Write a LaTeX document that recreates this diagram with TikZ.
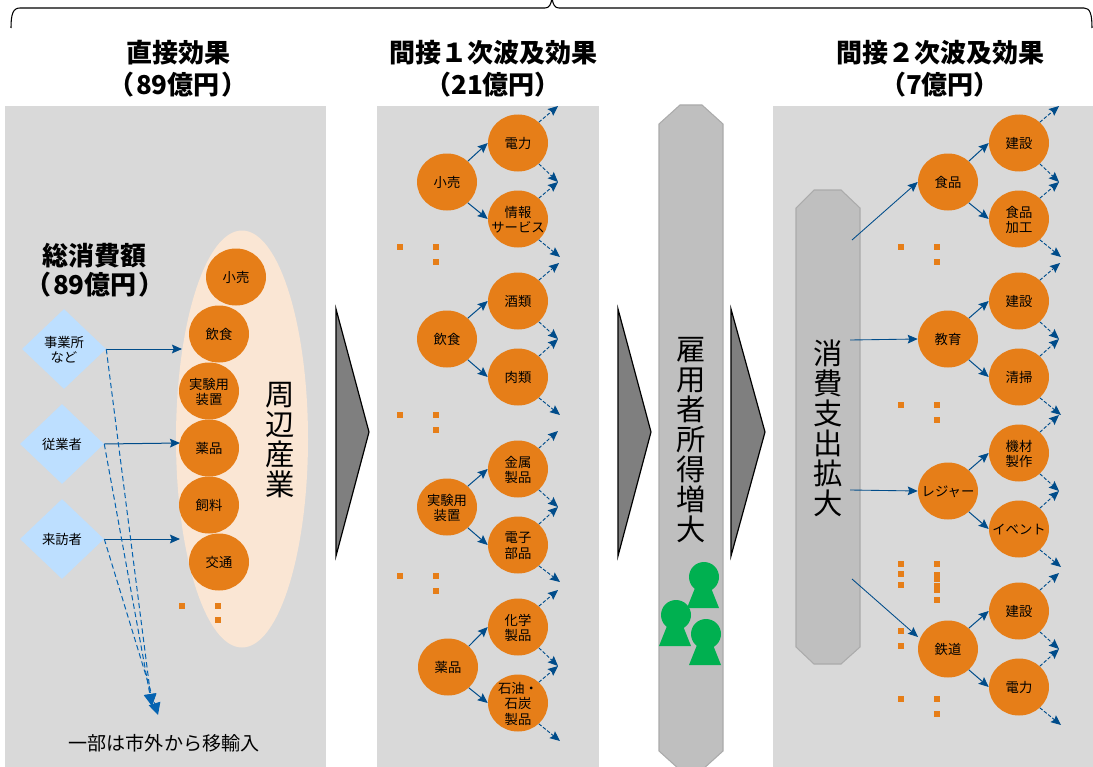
\documentclass[tikz,border=0pt]{standalone}
\usepackage{fontspec}
\setmainfont{Noto Sans CJK JP}
\usetikzlibrary{shapes.geometric,arrows.meta}
\definecolor{panelgray}{RGB}{217,217,217}
\definecolor{pillargray}{RGB}{191,191,191}
\definecolor{wedgegray}{RGB}{127,127,127}
\definecolor{sector}{RGB}{230,126,24}
\definecolor{peach}{RGB}{250,230,212}
\definecolor{buyer}{RGB}{189,223,255}
\definecolor{linkblue}{RGB}{0,76,138}
\definecolor{leakblue}{RGB}{5,99,177}
\definecolor{worker}{RGB}{0,176,80}
\newcommand{\ctext}[1]{\makebox[0pt]{\vbox to 0pt{\kern3.8pt\vss\hbox{\begin{tabular}{@{}c@{}}#1\end{tabular}}\vss}}}
\tikzset{
  sectornode/.style={ellipse,fill=sector,minimum width=45pt,minimum height=42.75pt,inner sep=0pt,font=\fontsize{10}{11.25}\selectfont},
  buyernode/.style={diamond,fill=buyer,minimum width=63pt,minimum height=60pt,inner sep=0pt,font=\fontsize{10}{11.25}\selectfont},
  dotnode/.style={rectangle,fill=sector,minimum size=4.5pt,inner sep=0pt},
  panel/.style={fill=panelgray},
  wedge/.style={fill=wedgegray,draw=black,line width=0.9pt,line join=miter},
  pillar/.style={fill=pillargray,draw=black!33,line width=0.8pt},
  person/.style={fill=worker},
  titletext/.style={font=\fontsize{19.5}{24}\selectfont\bfseries,align=center,inner sep=0pt},
  bigtext/.style={font=\fontsize{22}{22.5}\selectfont,align=center,inner sep=0pt},
  link/.style={draw=linkblue,line width=0.75pt,-{Stealth[length=7.5pt,width=6.5pt,inset=1.2pt]}},
  feed/.style={draw=linkblue,line width=0.65pt,-{Stealth[length=7.5pt,width=6.5pt,inset=1.2pt]}},
  onward/.style={draw=linkblue,line width=0.7pt,dash pattern=on 2.6pt off 1.4pt,-{Stealth[length=7.5pt,width=6.5pt,inset=1.2pt]}},
  leak/.style={draw=leakblue,line width=0.75pt,dash pattern=on 4pt off 2.4pt,-{Triangle[length=9pt,width=9pt]}},
}
\begin{document}
\begin{tikzpicture}[x=0.75pt,y=0.75pt,yscale=-1,xscale=1]
\useasboundingbox (0,0) rectangle (1093,767);
\clip (0,0) rectangle (1093,767);

%Shape: Panels
\path [panel] (5,106) rectangle (326,767);
\path [panel] (377,106) rectangle (599,767);
\path [panel] (773,106) rectangle (1093,767);
%Shape: Brace
\draw [line width=0.8pt] (11,28) .. controls (11,14) and (13,8) .. (20,8) -- (545,8) .. controls (549,8) and (551,5) .. (552,-2) .. controls (553,5) and (555,8) .. (559,8) -- (1084,8) .. controls (1090,8) and (1092,14) .. (1092,28);
%Shape: Wedges
\draw [wedge] (336,309) -- (369,432) -- (336,556) -- cycle;
\draw [wedge] (618,309) -- (651,432) -- (618,556) -- cycle;
\draw [wedge] (731,309) -- (765,432) -- (731,556) -- cycle;
%Shape: Pillars
\draw [pillar] (659,124) -- (680,105) -- (702,105) -- (723,124) -- (723,751) -- (702,770) -- (680,770) -- (659,751) -- cycle;
\draw [pillar] (796,208) -- (814,190) -- (841,190) -- (860,208) -- (860,647) -- (841,664) -- (814,664) -- (796,647) -- cycle;
%Shape: People
\path [person] (704,577) circle (15);
\path [person] (695,588) -- (687,608) -- (719,608) -- (711,588) -- cycle;
\path [person] (676,615) circle (15);
\path [person] (667,626) -- (659,646) -- (691,646) -- (683,626) -- cycle;
\path [person] (706,634) circle (15);
\path [person] (697,645) -- (689,665) -- (721,665) -- (713,645) -- cycle;
%Shape: Surrounding industries
\node (around) [ellipse,fill=peach,minimum width=99pt,minimum height=312.75pt,inner sep=0pt] at (242,439) {};

% Text Node
\node (titleA) [titletext] at (178,69) {直接効果\\（\kern1pt 89億円\kern1pt ）};
\node (titleB) [titletext] at (493,69) {間接１次波及効果\\（21億円）};
\node (titleC) [titletext] at (940,69) {間接２次波及効果\\（7億円）};
\node (total) [titletext,font=\fontsize{19.5}{21.75}\selectfont\bfseries] at (95,270) {総消費額\\（\kern1pt 89億円\kern1pt ）};
\node (aroundtext) [bigtext] at (280,440) {周\\辺\\産\\業};
\node (incometext) [bigtext] at (691,440) {雇\\用\\者\\所\\得\\増\\大};
\node (spendtext) [bigtext] at (828,428) {消\\費\\支\\出\\拡\\大};
\node (leaktext) [inner sep=0pt,font=\fontsize{14.3}{16}\selectfont] at (164,743) {一部は市外から移輸入};

%Shape: Direct column
\node (b1) [buyernode] at (64,349) {\ctext{事業所\\など}};
\node (b2) [buyernode] at (62,444) {\ctext{従業者}};
\node (b3) [buyernode] at (62,539) {\ctext{来訪者}};
\node (d1) [sectornode] at (236,277) {\ctext{小売}};
\node (d2) [sectornode] at (219,334) {\ctext{飲食}};
\node (d3) [sectornode] at (209,391) {\ctext{実験用\\装置}};
\node (d4) [sectornode] at (209,448) {\ctext{薬品}};
\node (d5) [sectornode] at (209,505) {\ctext{飼料}};
\node (d6) [sectornode] at (219,562) {\ctext{交通}};
\node (dd1) [dotnode] at (182,606) {};
\node (dd2) [dotnode] at (218,606) {};
\node (dd3) [dotnode] at (218,620) {};
\coordinate (b1end) at (182,349);
\coordinate (b2end) at (180,443);
\coordinate (b3end) at (180,539);
\coordinate (leak1) at (152,706);
\coordinate (leak2) at (152,706);
\coordinate (leak3) at (158,715);
\draw [link] (b1.east) -- (b1end);
\draw [link] (b2.east) -- (b2end);
\draw [link] (b3.east) -- (b3end);
\draw [leak] (b1.east) -- (leak1);
\draw [leak] (b2.east) -- (leak2);
\draw [leak] (b3.east) -- (leak3);

%Shape: First round column
\node (e1) [sectornode] at (447,182) {\ctext{小売}};
\node (e1u) [sectornode] at (518,143) {\ctext{電力}};
\node (e1l) [sectornode] at (518,219) {\ctext{情報\\サービス}};
\node (e2) [sectornode] at (447,339) {\ctext{飲食}};
\node (e2u) [sectornode] at (518,301) {\ctext{酒類}};
\node (e2l) [sectornode] at (518,377) {\ctext{肉類}};
\node (e3) [sectornode] at (447,507) {\ctext{実験用\\装置}};
\node (e3u) [sectornode] at (518,469) {\ctext{金属\\製品}};
\node (e3l) [sectornode] at (518,545) {\ctext{電子\\部品}};
\node (e4) [sectornode] at (448,667) {\ctext{薬品}};
\node (e4u) [sectornode] at (518,627) {\ctext{化学\\製品}};
\node (e4l) [sectornode] at (518,703) {\ctext{石油・\\石炭\\製品}};
\node (ed1) [dotnode] at (400,247) {};
\node (ed2) [dotnode] at (436,247) {};
\node (ed3) [dotnode] at (436,262) {};
\node (ed4) [dotnode] at (400,415) {};
\node (ed5) [dotnode] at (436,415) {};
\node (ed6) [dotnode] at (436,430) {};
\node (ed7) [dotnode] at (400,576) {};
\node (ed8) [dotnode] at (436,576) {};
\node (ed9) [dotnode] at (436,591) {};
\coordinate (e1a) at (558,106);
\coordinate (e1b) at (558,182);
\coordinate (e1c) at (560,257);
\coordinate (e2a) at (559,263);
\coordinate (e2b) at (558,339);
\coordinate (e2c) at (560,415);
\coordinate (e3a) at (558,431);
\coordinate (e3b) at (558,507);
\coordinate (e3c) at (560,582);
\coordinate (e4a) at (558,590);
\coordinate (e4b) at (558,666);
\coordinate (e4c) at (560,741);
\draw [link] (e1.45) -- (e1u.180);
\draw [link] (e1.-45) -- (e1l.180);
\draw [link] (e2.45) -- (e2u.180);
\draw [link] (e2.-45) -- (e2l.180);
\draw [link] (e3.45) -- (e3u.180);
\draw [link] (e3.-45) -- (e3l.180);
\draw [link] (e4.45) -- (e4u.180);
\draw [link] (e4.-45) -- (e4l.180);
\draw [onward] (e1u.45) -- (e1a);
\draw [onward] (e1u.-45) -- (e1b);
\draw [onward] (e1l.45) -- (e1b);
\draw [onward] (e1l.-45) -- (e1c);
\draw [onward] (e2u.45) -- (e2a);
\draw [onward] (e2u.-45) -- (e2b);
\draw [onward] (e2l.45) -- (e2b);
\draw [onward] (e2l.-45) -- (e2c);
\draw [onward] (e3u.45) -- (e3a);
\draw [onward] (e3u.-45) -- (e3b);
\draw [onward] (e3l.45) -- (e3b);
\draw [onward] (e3l.-45) -- (e3c);
\draw [onward] (e4u.45) -- (e4a);
\draw [onward] (e4u.-45) -- (e4b);
\draw [onward] (e4l.45) -- (e4b);
\draw [onward] (e4l.-45) -- (e4c);

%Shape: Second round column
\node (f1) [sectornode] at (948,182) {\ctext{食品}};
\node (f1u) [sectornode] at (1019,143) {\ctext{建設}};
\node (f1l) [sectornode] at (1019,219) {\ctext{食品\\加工}};
\node (f2) [sectornode] at (948,339) {\ctext{教育}};
\node (f2u) [sectornode] at (1019,301) {\ctext{建設}};
\node (f2l) [sectornode] at (1019,377) {\ctext{清掃}};
\node (f3) [sectornode] at (948,491) {\ctext{レジャー}};
\node (f3u) [sectornode] at (1019,453) {\ctext{機材\\製作}};
\node (f3l) [sectornode] at (1019,529) {\ctext{イベント}};
\node (f4) [sectornode] at (948,649) {\ctext{鉄道}};
\node (f4u) [sectornode] at (1019,611) {\ctext{建設}};
\node (f4l) [sectornode] at (1019,687) {\ctext{電力}};
\node (fd1) [dotnode] at (901,247) {};
\node (fd2) [dotnode] at (937,247) {};
\node (fd3) [dotnode] at (937,262) {};
\node (fd4) [dotnode] at (901,405) {};
\node (fd5) [dotnode] at (937,405) {};
\node (fd6) [dotnode] at (937,420) {};
\node (fd7) [dotnode] at (901,564) {};
\node (fd8) [dotnode] at (901,574) {};
\node (fd9) [dotnode] at (901,585) {};
\node (fd10) [dotnode] at (901,631) {};
\node (fd11) [dotnode] at (901,646) {};
\node (fd12) [dotnode] at (901,699) {};
\node (fd13) [dotnode] at (937,564) {};
\node (fd14) [dotnode] at (937,575) {};
\node (fd15) [dotnode] at (937,579) {};
\node (fd16) [dotnode] at (937,586) {};
\node (fd17) [dotnode] at (937,590) {};
\node (fd18) [dotnode] at (937,600) {};
\node (fd19) [dotnode] at (937,699) {};
\node (fd20) [dotnode] at (937,714) {};
\coordinate (s1) at (852,240);
\coordinate (s2) at (850,340);
\coordinate (s3) at (850,490);
\coordinate (s4) at (852,579);
\coordinate (f4in) at (918,637);
\coordinate (f1a) at (1059,106);
\coordinate (f1b) at (1059,182);
\coordinate (f1c) at (1061,257);
\coordinate (f2a) at (1060,263);
\coordinate (f2b) at (1059,339);
\coordinate (f2c) at (1061,415);
\coordinate (f3a) at (1059,415);
\coordinate (f3b) at (1059,491);
\coordinate (f3c) at (1061,567);
\coordinate (f4a) at (1059,573);
\coordinate (f4b) at (1059,649);
\coordinate (f4c) at (1061,725);
\draw [feed] (s1) -- (f1.west);
\draw [feed] (s2) -- (f2.west);
\draw [feed] (s3) -- (f3.west);
\draw [feed] (s4) -- (f4in);
\draw [link] (f1.45) -- (f1u.180);
\draw [link] (f1.-45) -- (f1l.180);
\draw [link] (f2.45) -- (f2u.180);
\draw [link] (f2.-45) -- (f2l.180);
\draw [link] (f3.45) -- (f3u.180);
\draw [link] (f3.-45) -- (f3l.180);
\draw [link] (f4.45) -- (f4u.180);
\draw [link] (f4.-45) -- (f4l.180);
\draw [onward] (f1u.45) -- (f1a);
\draw [onward] (f1u.-45) -- (f1b);
\draw [onward] (f1l.45) -- (f1b);
\draw [onward] (f1l.-45) -- (f1c);
\draw [onward] (f2u.45) -- (f2a);
\draw [onward] (f2u.-45) -- (f2b);
\draw [onward] (f2l.45) -- (f2b);
\draw [onward] (f2l.-45) -- (f2c);
\draw [onward] (f3u.45) -- (f3a);
\draw [onward] (f3u.-45) -- (f3b);
\draw [onward] (f3l.45) -- (f3b);
\draw [onward] (f3l.-45) -- (f3c);
\draw [onward] (f4u.45) -- (f4a);
\draw [onward] (f4u.-45) -- (f4b);
\draw [onward] (f4l.45) -- (f4b);
\draw [onward] (f4l.-45) -- (f4c);

\end{tikzpicture}
\end{document}
